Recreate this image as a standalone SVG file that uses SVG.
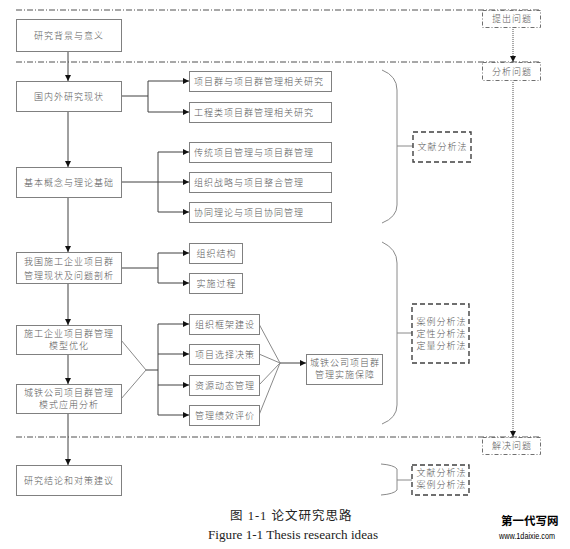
<svg xmlns="http://www.w3.org/2000/svg" width="570" height="549" viewBox="0 0 570 549">
<style>
.bx{fill:#fff;stroke:#808080;stroke-width:1}
.t{font-family:"Noto Sans CJK SC","Noto Sans CJK JP",sans-serif;font-size:9px;font-weight:300;fill:#5a5a5a;letter-spacing:1px;text-anchor:middle}
.tl{text-anchor:start}
.ln{fill:none;stroke:#404040;stroke-width:1}
.br{fill:none;stroke:#8a8a8a;stroke-width:1}
.sep{fill:none;stroke:#505050;stroke-width:1;stroke-dasharray:6 2 1 2}
.stage{fill:#fff;stroke:#707070;stroke-width:1;stroke-dasharray:4 2 1 2}
.meth{fill:#fff;stroke:#404040;stroke-width:1.4;stroke-dasharray:5 3}
.dot{fill:none;stroke:#505050;stroke-width:1;stroke-dasharray:1 1}
</style>
<defs>
<marker id="ah" viewBox="0 0 6 6" refX="6" refY="3" markerWidth="6" markerHeight="6" orient="auto" markerUnits="userSpaceOnUse">
<path d="M0,0 L6,3 L0,6 Z" fill="#111"/>
</marker>
</defs>
<rect width="570" height="549" fill="#fff"/>

<g id="separators">
<path class="sep" d="M16,10 H540"/>
<path class="sep" d="M16,62 H540"/>
<path class="sep" d="M16,437 H540"/>
</g>

<g id="connectors">
<path class="ln" d="M68,51 V81" marker-end="url(#ah)"/>
<path class="ln" d="M68,111 V167" marker-end="url(#ah)"/>
<path class="ln" d="M68,197 V252" marker-end="url(#ah)"/>
<path class="ln" d="M68,283 V325" marker-end="url(#ah)"/>
<path class="ln" d="M68,354 V384" marker-end="url(#ah)"/>
<path class="ln" d="M68,413 V465" marker-end="url(#ah)"/>

<path class="ln" d="M121,96 H148 M148,81 V112"/>
<path class="ln" d="M148,81 H189" marker-end="url(#ah)"/>
<path class="ln" d="M148,112 H189" marker-end="url(#ah)"/>

<path class="ln" d="M121,182 H158 M158,152 V212"/>
<path class="ln" d="M158,152 H189" marker-end="url(#ah)"/>
<path class="ln" d="M158,182 H189" marker-end="url(#ah)"/>
<path class="ln" d="M158,212 H189" marker-end="url(#ah)"/>

<path class="ln" d="M121,268 H158 M158,253 V283"/>
<path class="ln" d="M158,253 H189" marker-end="url(#ah)"/>
<path class="ln" d="M158,283 H189" marker-end="url(#ah)"/>

<path class="br" d="M121,340 L146,370 L121,399"/>
<path class="ln" d="M146,370 H158 M158,324 V415"/>
<path class="ln" d="M158,324 H189" marker-end="url(#ah)"/>
<path class="ln" d="M158,354 H189" marker-end="url(#ah)"/>
<path class="ln" d="M158,385 H189" marker-end="url(#ah)"/>
<path class="ln" d="M158,415 H189" marker-end="url(#ah)"/>

<path class="br" d="M259,324 L280,363 M259,354 L280,363 M259,385 L280,363 M259,415 L280,363"/>
<path class="ln" d="M280,363 H306" marker-end="url(#ah)"/>

<path class="dot" d="M513,27 V62" marker-end="url(#ah)"/>
<path class="dot" d="M513,80 V437" marker-end="url(#ah)"/>

<path class="br" d="M382,70 Q397,76 397,90 V205 Q397,217 382,223 M397,146 H413"/>
<path class="br" d="M382,242 Q397,249 397,263 V405 Q397,418 382,424 M397,333 H412"/>
<path class="br" d="M381,464 Q394,465 397,469 V490 Q394,494 381,495 M397,480 H412"/>
</g>

<g id="n1"><rect class="bx" x="16.5" y="19.5" width="105" height="32"/><text class="t" x="69" y="38.5">研究背景与意义</text></g>
<g id="n2"><rect class="bx" x="16.5" y="81.5" width="105" height="30"/><text class="t" x="69" y="99.5">国内外研究现状</text></g>
<g id="n3"><rect class="bx" x="16.5" y="167.5" width="105" height="30"/><text class="t" x="69" y="185.5">基本概念与理论基础</text></g>
<g id="n4"><rect class="bx" x="16.5" y="252.5" width="105" height="31"/><text class="t" x="69" y="265">我国施工企业项目群</text><text class="t" x="69" y="279">管理现状及问题剖析</text></g>
<g id="n5"><rect class="bx" x="16.5" y="325.5" width="105" height="29"/><text class="t" x="69" y="337">施工企业项目群管理</text><text class="t" x="69" y="349">模型优化</text></g>
<g id="n6"><rect class="bx" x="16.5" y="384.5" width="105" height="29"/><text class="t" x="69" y="396">城铁公司项目群管理</text><text class="t" x="69" y="408">模式应用分析</text></g>
<g id="n7"><rect class="bx" x="16.5" y="465.5" width="105" height="30"/><text class="t" x="69" y="483.5">研究结论和对策建议</text></g>

<g id="r1"><rect class="bx" x="189.5" y="71.5" width="142" height="20"/><text class="t tl" x="194" y="84.5">项目群与项目群管理相关研究</text></g>
<g id="r2"><rect class="bx" x="189.5" y="102.5" width="142" height="20"/><text class="t tl" x="194" y="115.5">工程类项目群管理相关研究</text></g>
<g id="r3"><rect class="bx" x="189.5" y="142.5" width="142" height="20"/><text class="t tl" x="194" y="155.5">传统项目管理与项目群管理</text></g>
<g id="r4"><rect class="bx" x="189.5" y="172.5" width="142" height="20"/><text class="t tl" x="194" y="185.5">组织战略与项目整合管理</text></g>
<g id="r5"><rect class="bx" x="189.5" y="202.5" width="142" height="20"/><text class="t tl" x="194" y="215.5">协同理论与项目协同管理</text></g>
<g id="r6"><rect class="bx" x="189.5" y="243.5" width="53" height="20"/><text class="t" x="216.5" y="256.5">组织结构</text></g>
<g id="r7"><rect class="bx" x="189.5" y="273.5" width="53" height="20"/><text class="t" x="216.5" y="286.5">实施过程</text></g>
<g id="r8"><rect class="bx" x="189.5" y="314.5" width="70" height="20"/><text class="t" x="225" y="327.5">组织框架建设</text></g>
<g id="r9"><rect class="bx" x="189.5" y="344.5" width="70" height="20"/><text class="t" x="225" y="357.5">项目选择决策</text></g>
<g id="r10"><rect class="bx" x="189.5" y="375.5" width="70" height="20"/><text class="t" x="225" y="388.5">资源动态管理</text></g>
<g id="r11"><rect class="bx" x="189.5" y="405.5" width="70" height="20"/><text class="t" x="225" y="418.5">管理绩效评价</text></g>
<g id="r12"><rect class="bx" x="306.5" y="354.5" width="76" height="30"/><text class="t" x="345" y="366">城铁公司项目群</text><text class="t" x="345" y="378">管理实施保障</text></g>

<g id="s1"><rect class="stage" x="482.5" y="10.5" width="58" height="17"/><text class="t" x="512" y="22">提出问题</text></g>
<g id="s2"><rect class="stage" x="482.5" y="62.5" width="58" height="18"/><text class="t" x="512" y="74.5">分析问题</text></g>
<g id="s3"><rect class="stage" x="482.5" y="437.5" width="58" height="17"/><text class="t" x="512" y="449">解决问题</text></g>

<g id="m1"><rect class="meth" x="413" y="132" width="58" height="30"/><text class="t" x="442.5" y="150">文献分析法</text></g>
<g id="m2"><rect class="meth" x="412" y="304" width="57" height="59"/><text class="t" x="441.5" y="325">案例分析法</text><text class="t" x="441.5" y="337">定性分析法</text><text class="t" x="441.5" y="349">定量分析法</text></g>
<g id="m3"><rect class="meth" x="412" y="465" width="57" height="30"/><text class="t" x="441.5" y="476">文献分析法</text><text class="t" x="441.5" y="488">案例分析法</text></g>

<g id="caption">
<text x="230" y="520" font-family="Liberation Serif,'Noto Sans CJK SC',serif" font-size="12.5" fill="#222" letter-spacing="1">图 1-1  论文研究思路</text>
<text x="208" y="539" font-family="Liberation Serif,serif" font-size="12" fill="#222" textLength="170" lengthAdjust="spacingAndGlyphs">Figure 1-1 Thesis research ideas</text>
</g>
<g id="watermark">
<text x="501" y="525" font-family="'Noto Sans CJK SC',sans-serif" font-size="11.5" font-weight="bold" fill="#000">第一代写网</text>
<text x="499" y="539" font-family="Liberation Sans,sans-serif" font-size="8.5" fill="#000" textLength="56" lengthAdjust="spacingAndGlyphs">www.1daixie.com</text>
</g>
</svg>
